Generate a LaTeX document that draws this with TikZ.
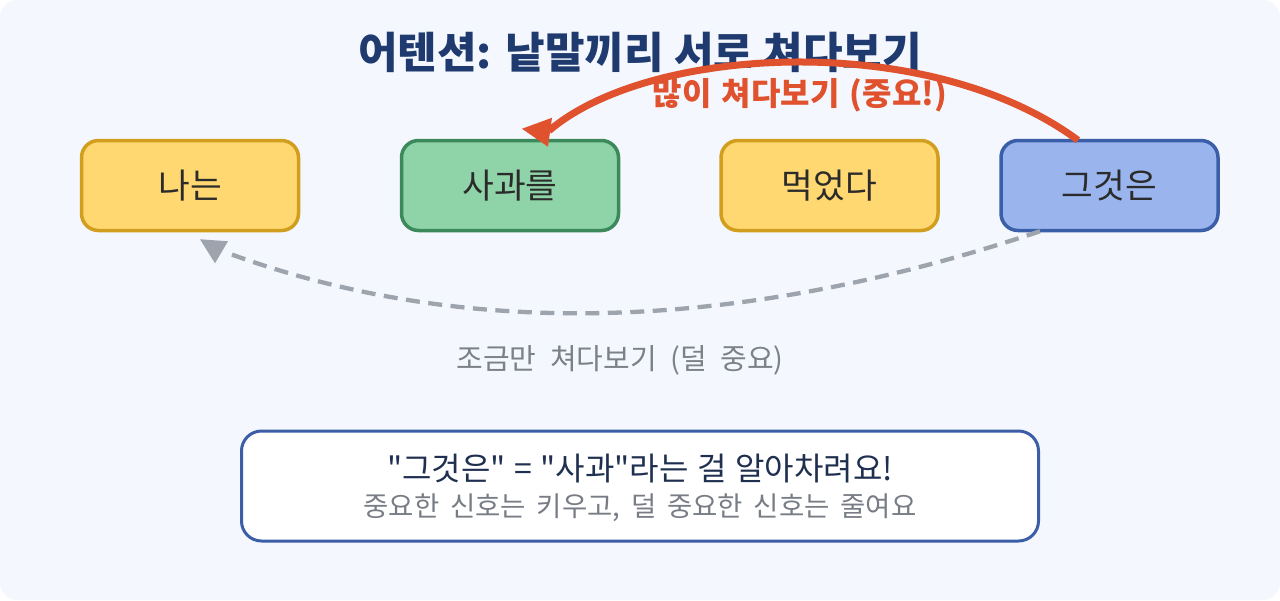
\documentclass[tikz,border=0pt]{standalone}
\usepackage{fontspec}
\newfontfamily\kr{Noto Sans CJK KR}
\usetikzlibrary{calc}
\definecolor{bgc}{HTML}{F4F7FD}
\definecolor{titlec}{HTML}{1E3A6E}
\definecolor{redc}{HTML}{E0512D}
\definecolor{grayc}{HTML}{9EA4AE}
\definecolor{graytext}{HTML}{7B8089}
\definecolor{boxtext}{HTML}{2B2B2B}
\definecolor{yfill}{HTML}{FFD872}
\definecolor{ydraw}{HTML}{D19E1E}
\definecolor{gfill}{HTML}{8FD4A8}
\definecolor{gdraw}{HTML}{3C8A5C}
\definecolor{bfill}{HTML}{9AB5EE}
\definecolor{bdraw}{HTML}{3A5EA8}
\definecolor{notedraw}{HTML}{3B5EA6}
\definecolor{noteone}{HTML}{1F2F4F}
\definecolor{notetwo}{HTML}{777C85}
\newcommand\krsize[3]{\kr\fontsize{#1}{#2}\selectfont\spaceskip=#3\fontdimen2\font\relax}
\tikzset{
  wordbox/.style={rectangle, rounded corners=17pt, line width=3.5pt,
    minimum width=217pt, minimum height=90pt, inner sep=0pt, text=boxtext,
    font=\krsize{34.5}{40}{1}},
  redline/.style={draw=redc, line width=7pt},
  grayline/.style={draw=grayc, line width=4.3pt, dash pattern=on 14pt off 8.5pt},
  notebox/.style={rectangle, draw=notedraw, fill=white, line width=3pt,
    rounded corners=20pt, minimum width=797pt, minimum height=110pt},
}
\begin{document}
\begin{tikzpicture}[x=1pt,y=-1pt]
\useasboundingbox (0,0) rectangle (1280,600);
\fill[white] (0,0) rectangle (1280,600);
\fill[bgc, rounded corners=18pt] (0,0) rectangle (1280,600);

\node[font=\bfseries\krsize{43}{50}{1.05}, text=titlec] (title) at (640,52) {어텐션: 낱말끼리 서로 쳐다보기};

\node[wordbox, fill=yfill, draw=ydraw] (na) at (190,185.5) {나는};
\node[wordbox, fill=gfill, draw=gdraw] (sg) at (510,185.5) {사과를};
\node[wordbox, fill=yfill, draw=ydraw] (mg) at (829.5,185.5) {먹었다};
\node[wordbox, fill=bfill, draw=bdraw] (gz) at (1109.5,185.5) {그것은};

% strong attention arrow
\coordinate (rs) at ($(gz.north)+(-31.5,1.5)$);
\coordinate (re) at ($(sg.north)+(39,-8)$);
\draw[redline] (rs) .. controls (929,30) and (649,45) .. (re);
\fill[redc] ($(sg.north)+(12,-10)$) -- ($(sg.north)+(42,-21)$) -- ($(sg.north)+(38,8)$) -- cycle;
\node[font=\bfseries\krsize{32}{37}{1.4}, text=redc] (strong) at (800,95) {많이 쳐다보기 (중요!)};

% weak attention arrow
\coordinate (gs) at ($(gz.south)+(-69.5,-1)$);
\coordinate (ge) at ($(na.south)+(41,22)$);
\draw[grayline] (gs) .. controls (736.7,332.7) and (466.7,339.7) .. (ge);
\fill[grayc] ($(na.south)+(10,7)$) -- ($(na.south)+(38,9)$) -- ($(na.south)+(25,31)$) -- cycle;
\node[font=\krsize{29}{34}{2.1}, text=graytext] (weak) at (620,360) {조금만 쳐다보기 (덜 중요)};

% note
\node[notebox] (note) at (640,486) {};
\node[font=\krsize{32}{37}{1.2}, text=noteone] (l1) at (640,469) {"그것은" = "사과"라는 걸 알아차려요!};
\node[font=\krsize{27.5}{32}{1.75}, text=notetwo] (l2) at (640,508) {중요한 신호는 키우고, 덜 중요한 신호는 줄여요};
\end{tikzpicture}
\end{document}
